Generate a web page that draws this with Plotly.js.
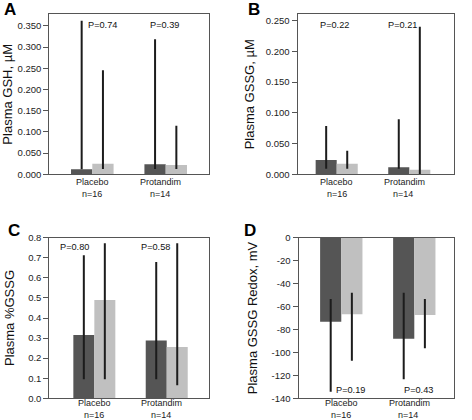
<!DOCTYPE html>
<html><head><meta charset="utf-8">
<script src="https://cdn.plot.ly/plotly-3.0.1.min.js"></script>
<style>html,body{margin:0;padding:0;background:#fff}#chart{width:472px;height:420px}</style>
</head><body><div id="chart"></div>
<script>
// ---- data ----
const categories = ['Placebo', 'Protandim'];
const groupSizes = ['n=16', 'n=14'];

// Panel A: Plasma GSH, µM
const gshDark = [0.012, 0.0235];
const gshLight = [0.025, 0.022];
const gshDarkLow = [0.012, 0.0125];
const gshDarkHigh = [0.362, 0.3186];
const gshLightLow = [0.0125, 0.0125];
const gshLightHigh = [0.2456, 0.1145];
const gshP = ['P=0.74', 'P=0.39'];

// Panel B: Plasma GSSG, µM
const gssgDark = [0.0233, 0.0114];
const gssgLight = [0.0173, 0.0075];
const gssgDarkLow = [0.0091, 0.0091];
const gssgDarkHigh = [0.0786, 0.0895];
const gssgLightLow = [0.0091, 0.0005];
const gssgLightHigh = [0.0384, 0.2403];
const gssgP = ['P=0.22', 'P=0.21'];

// Panel C: Plasma %GSSG
const pctDark = [0.315, 0.288];
const pctLight = [0.49, 0.255];
const pctDarkLow = [0.095, 0.095];
const pctDarkHigh = [0.713, 0.679];
const pctLightLow = [0.095, 0.065];
const pctLightHigh = [0.772, 0.772];
const pctP = ['P=0.80', 'P=0.58'];

// Panel D: Plasma GSSG Redox, mV
const redoxDark = [-73.2, -88.0];
const redoxLight = [-66.8, -67.4];
const redoxDarkLow = [-134.2, -123.4];
const redoxDarkHigh = [-53.4, -47.9];
const redoxLightLow = [-107.2, -96.4];
const redoxLightHigh = [-47.9, -53.4];
const redoxP = ['P=0.19', 'P=0.43'];

// ---- styling / layout ----
const W = 472, H = 420;
const FONT = '"Liberation Sans", Arial, Helvetica, sans-serif';
const DARK = '#555555', LIGHT = '#c0c0c0', ERR = '#1c1c1c', FRAME = '#555555';
const catShift = [[0, 0], [-5, -6]]; // [name, n] horizontal label shifts per category (px)

const panels = [
  {key: '', letter: 'A', dark: gshDark, light: gshLight, dLo: gshDarkLow, dHi: gshDarkHigh, lLo: gshLightLow, lHi: gshLightHigh, p: gshP,
   title: 'Plasma GSH, µM', box: [49.3, 209.3, 14.3, 174.3], xr: [-0.586, 1.594], yr: [0, 0.3775], dtick: 0.05, dec: 3,
   pPos: [[102.5, 25], [164.5, 25]], lab: [9.5, 9], standoff: 6, catY: 13.6},
  {key: '2', letter: 'B', dark: gssgDark, light: gssgLight, dLo: gssgDarkLow, dHi: gssgDarkHigh, lLo: gssgLightLow, lHi: gssgLightHigh, p: gssgP,
   title: 'Plasma GSSG, µM', box: [297.5, 454.3, 14.3, 174.3], xr: [-0.54, 1.62], yr: [0, 0.2605], dtick: 0.05, dec: 3,
   pPos: [[334, 25], [402.5, 25]], lab: [254.5, 9], standoff: 8, catY: 13.6},
  {key: '3', letter: 'C', dark: pctDark, light: pctLight, dLo: pctDarkLow, dHi: pctDarkHigh, lLo: pctLightLow, lHi: pctLightHigh, p: pctP,
   title: 'Plasma %GSSG', box: [49.3, 209.3, 237.7, 398.3], xr: [-0.622, 1.588], yr: [0, 0.8], dtick: 0.1, dec: 1,
   pPos: [[74, 246.7], [155.5, 246.7]], lab: [13.7, 230], standoff: 10, catY: 10.9},
  {key: '4', letter: 'D', dark: redoxDark, light: redoxLight, dLo: redoxDarkLow, dHi: redoxDarkHigh, lLo: redoxLightLow, lHi: redoxLightHigh, p: redoxP,
   title: 'Plasma GSSG Redox, mV', box: [298.5, 454.3, 237.7, 398.3], xr: [-0.586, 1.548], yr: [-140, 0], dtick: 20, dec: 0,
   pPos: [[350, 390], [418, 390]], lab: [249.8, 230], standoff: 11, catY: 10.9}
];

const traces = [];
const layout = {
  width: W, height: H, margin: {l: 0, r: 0, t: 0, b: 0},
  paper_bgcolor: '#fff', plot_bgcolor: '#fff',
  font: {family: FONT, size: 9.5, color: '#222'},
  showlegend: false, barmode: 'group', bargap: 0.42, bargroupgap: 0,
  annotations: []
};

function errBar(vals, lo, hi) {
  return {type: 'data', symmetric: false,
    array: hi.map((h, i) => h - vals[i]),
    arrayminus: lo.map((l, i) => vals[i] - l),
    width: 0, thickness: 2, color: ERR};
}

panels.forEach(p => {
  const xa = 'x' + p.key, ya = 'y' + p.key;
  traces.push({type: 'bar', x: categories, y: p.dark, xaxis: xa, yaxis: ya, name: 'dark',
    marker: {color: DARK, line: {width: 0}}, error_y: errBar(p.dark, p.dLo, p.dHi), hoverinfo: 'y'});
  traces.push({type: 'bar', x: categories, y: p.light, xaxis: xa, yaxis: ya, name: 'light',
    marker: {color: LIGHT, line: {width: 0}}, error_y: errBar(p.light, p.lLo, p.lHi), hoverinfo: 'y'});
  const [x0, x1, y0, y1] = p.box;
  // tick values from axis range (hyphen minus, fixed decimals)
  const tv = [], tt = [];
  const start = Math.ceil(p.yr[0] / p.dtick - 1e-6) * p.dtick;
  const nT = Math.round((Math.floor(p.yr[1] / p.dtick + 1e-6) * p.dtick - start) / p.dtick);
  for (let k = 0; k <= nT; k++) {
    const v = start + k * p.dtick;
    tv.push(v);
    tt.push(v.toFixed(p.dec).replace(/^-0(\.0+)?$/, '0$1'));
  }
  layout['xaxis' + p.key] = {
    domain: [x0 / W, x1 / W], anchor: ya, type: 'category', range: p.xr,
    showline: true, mirror: true, linecolor: FRAME, linewidth: 1,
    ticks: '', showticklabels: false, showgrid: false, zeroline: false, fixedrange: true
  };
  layout['yaxis' + p.key] = {
    domain: [1 - y1 / H, 1 - y0 / H], anchor: xa, range: p.yr,
    tickmode: 'array', tickvals: tv, ticktext: tt,
    showline: true, mirror: true, linecolor: FRAME, linewidth: 1,
    ticks: 'outside', ticklen: 5, tickcolor: FRAME, showgrid: false, zeroline: false, fixedrange: true,
    tickfont: {size: 9.5, color: '#222'},
    title: {text: p.title, font: {size: 13, color: '#111'}, standoff: p.standoff}
  };
  // category labels (name above, group size below a shared boundary)
  const yb = 1 - (y1 + p.catY) / H;
  categories.forEach((c, i) => {
    layout.annotations.push({text: c, xref: xa, yref: 'paper', x: c, y: yb,
      xanchor: 'center', yanchor: 'bottom', xshift: catShift[i][0], showarrow: false,
      borderpad: 0, font: {size: 9, color: '#222'}});
    layout.annotations.push({text: groupSizes[i], xref: xa, yref: 'paper', x: c, y: yb,
      xanchor: 'center', yanchor: 'top', xshift: catShift[i][1], showarrow: false,
      borderpad: 0, font: {size: 9, color: '#222'}});
  });
  p.p.forEach((t, i) => {
    layout.annotations.push({text: t, xref: 'paper', yref: 'paper',
      x: p.pPos[i][0] / W, y: 1 - p.pPos[i][1] / H, xanchor: 'center', yanchor: 'middle',
      showarrow: false, font: {size: 9.2, color: '#111'}});
  });
  layout.annotations.push({text: '<b>' + p.letter + '</b>', xref: 'paper', yref: 'paper',
    x: p.lab[0] / W, y: 1 - p.lab[1] / H, xanchor: 'center', yanchor: 'middle',
    showarrow: false, font: {size: 17, color: '#000'}});
});

Plotly.newPlot('chart', traces, layout, {displayModeBar: false, staticPlot: true});
</script>
</body></html>
